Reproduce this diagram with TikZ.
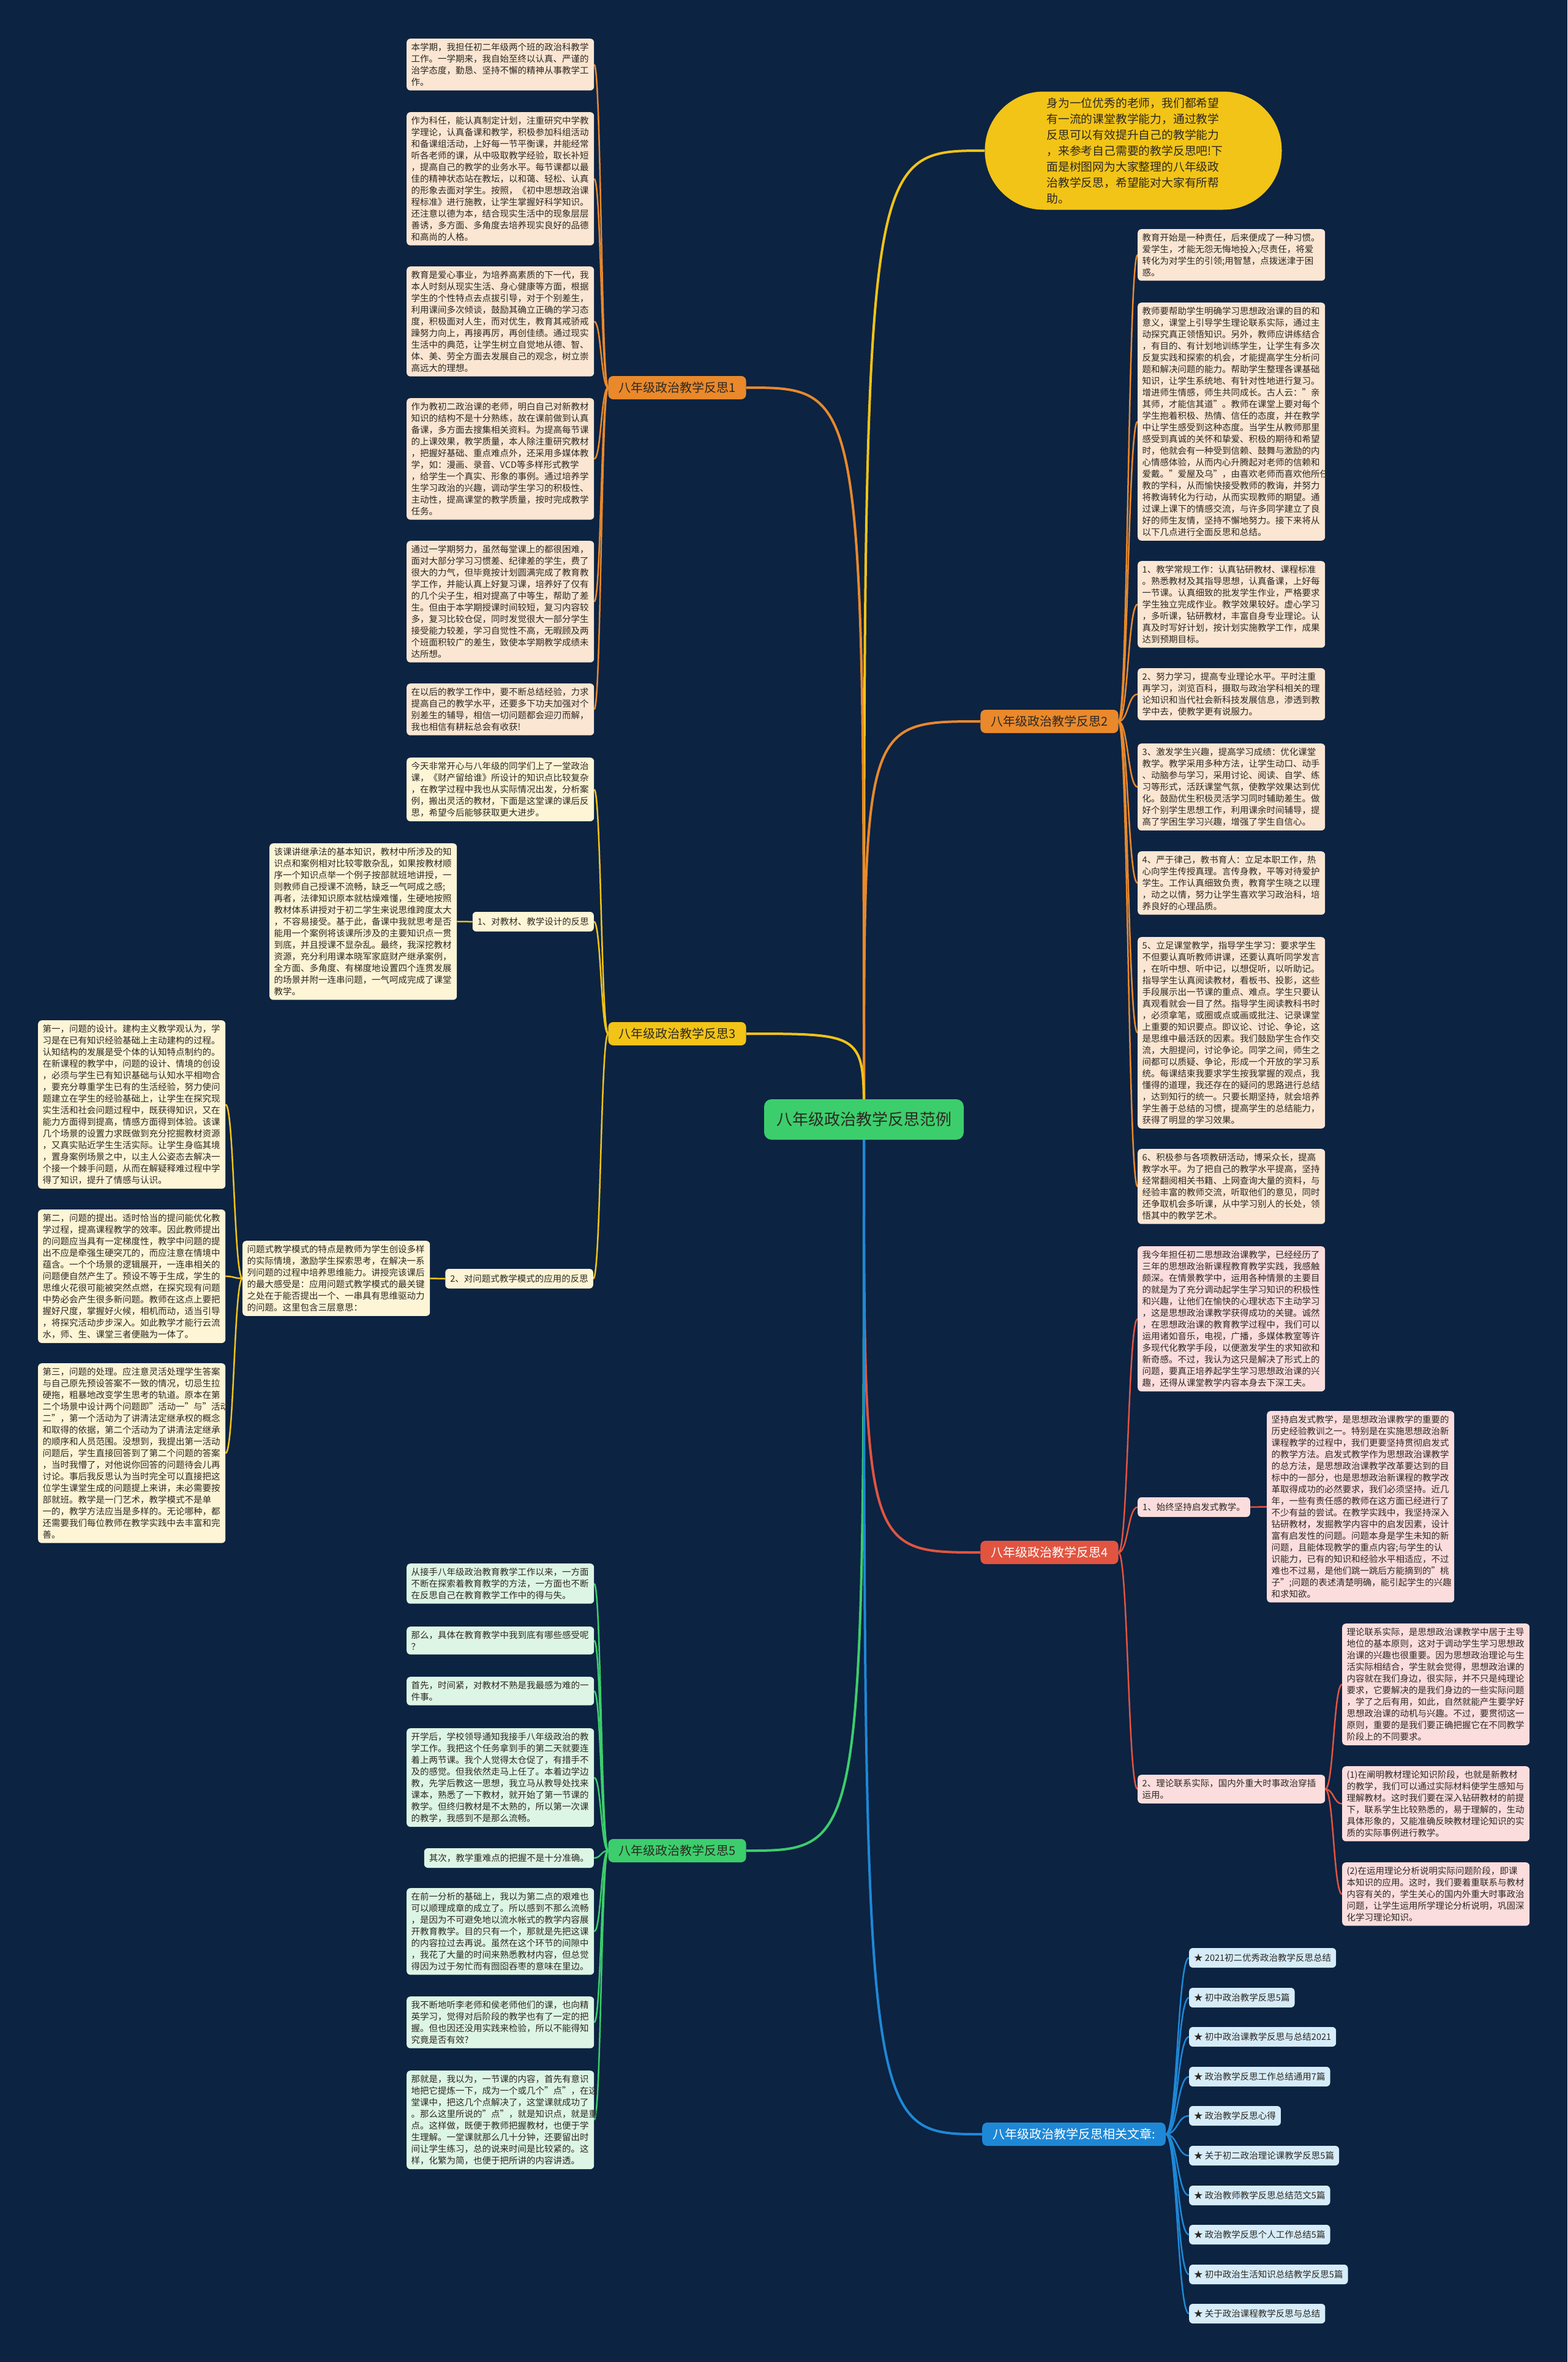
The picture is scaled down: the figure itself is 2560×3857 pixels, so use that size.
\documentclass[tikz,border=0pt]{standalone}
\usepackage{fontspec}
\setmainfont{Noto Sans CJK SC}
\usetikzlibrary{calc}
\definecolor{bgc}{RGB}{12,35,66}
\definecolor{txt}{RGB}{45,40,35}
\definecolor{cy}{RGB}{242,196,23}
\definecolor{co}{RGB}{233,137,43}
\definecolor{cr}{RGB}{226,84,64}
\definecolor{cg}{RGB}{60,206,108}
\definecolor{cb}{RGB}{30,136,214}
\definecolor{fpeach}{RGB}{250,230,210}
\definecolor{fcream}{RGB}{253,245,214}
\definecolor{fpink}{RGB}{251,221,221}
\definecolor{fmint}{RGB}{221,245,229}
\definecolor{fblue}{RGB}{214,236,248}
\pgfdeclarelayer{bgl}\pgfdeclarelayer{edg}\pgfsetlayers{bgl,edg,main}
\newcommand\fbody{\fontsize{14.5}{19}\selectfont}
\newcommand\fbr{\fontsize{20}{24}\selectfont}
\newcommand\fctr{\fontsize{26}{30}\selectfont}
\newcommand\fbub{\fontsize{18.8}{26}\selectfont}
\newcommand\scurve[3]{\path ($(#2)!.5!(#3)$) coordinate (tmpm); \draw[#1] (#2) .. controls (tmpm |- #2) and (tmpm |- #3) .. (#3);}
\newcommand\ccurve[2]{\draw[mainline,#1] (C.center) .. controls (C.center |- #2) .. (#2);}
\tikzset{
  tbox/.style={rounded corners=6pt, text width=291pt, inner xsep=7.5pt, inner ysep=7pt, align=left, font=\fbody, text=txt, anchor=north west},
  lbl/.style={rounded corners=6pt, inner xsep=8pt, inner ysep=7pt, font=\fbody, text=txt, minimum height=32pt},
  brn/.style={rounded corners=8pt, inner xsep=17pt, inner ysep=6pt, font=\fbr, text=txt, minimum height=38pt},
  itm/.style={rounded corners=6pt, inner xsep=8pt, inner ysep=6pt, font=\fbody, text=txt, minimum height=32pt, anchor=west, fill=fblue},
  mainline/.style={line width=4pt},
  subline/.style={line width=2.5pt}
}
\begin{document}
\begin{tikzpicture}[x=1pt,y=-1pt]
\useasboundingbox (0,0) rectangle (2560,3857);
\begin{pgfonlayer}{bgl}
\fill[bgc] (0,0) rectangle (2560,3857);
\end{pgfonlayer}

% center and bubble
\node[fill=cg, rounded corners=12pt, inner xsep=20pt, minimum height=66pt, font=\fctr, text=txt] (C) at (1411,1828) {八年级政治教学反思范例};
\node[fill=cy, rounded corners=96pt, text width=283pt, inner xsep=101pt, inner ysep=8pt, minimum height=193pt, align=left, font=\fbub, text=txt] (Y) at (1851,246) {身为一位优秀的老师，我们都希望\\有一流的课堂教学能力，通过教学\\反思可以有效提升自己的教学能力\\，来参考自己需要的教学反思吧!下\\面是树图网为大家整理的八年级政\\治教学反思，希望能对大家有所帮\\助。};

% branch labels
\node[brn, fill=co] (L1) at (1106,633) {八年级政治教学反思1};
\node[brn, fill=co] (L2) at (1714,1178) {八年级政治教学反思2};
\node[brn, fill=cy] (L3) at (1106,1688) {八年级政治教学反思3};
\node[brn, fill=cr, text=white] (L4) at (1714,2535) {八年级政治教学反思4};
\node[brn, fill=cg] (L5) at (1106,3022) {八年级政治教学反思5};
\node[brn, fill=cb, text=white] (L6) at (1754,3485) {八年级政治教学反思相关文章:};

% branch 1
\node[tbox, fill=fpeach] (A1) at (664,63) {本学期，我担任初二年级两个班的政治科教学\\工作。一学期来，我自始至终以认真、严谨的\\治学态度，勤恳、坚持不懈的精神从事教学工\\作。};
\node[tbox, fill=fpeach] (A2) at (664,183) {作为科任，能认真制定计划，注重研究中学教\\学理论，认真备课和教学，积极参加科组活动\\和备课组活动，上好每一节平衡课，并能经常\\听各老师的课，从中吸取教学经验，取长补短\\，提高自己的教学的业务水平。每节课都以最\\佳的精神状态站在教坛，以和蔼、轻松、认真\\的形象去面对学生。按照，《初中思想政治课\\程标准》进行施教，让学生掌握好科学知识。\\还注意以德为本，结合现实生活中的现象层层\\善诱，多方面、多角度去培养现实良好的品德\\和高尚的人格。};
\node[tbox, fill=fpeach] (A3) at (664,435) {教育是爱心事业，为培养高素质的下一代，我\\本人时刻从现实生活、身心健康等方面，根据\\学生的个性特点去点拔引导，对于个别差生，\\利用课间多次倾谈，鼓励其确立正确的学习态\\度，积极面对人生，而对优生，教育其戒骄戒\\躁努力向上，再接再厉，再创佳绩。通过现实\\生活中的典范，让学生树立自觉地从德、智、\\体、美、劳全方面去发展自己的观念，树立崇\\高远大的理想。};
\node[tbox, fill=fpeach] (A4) at (664,650) {作为教初二政治课的老师，明白自己对新教材\\知识的结构不是十分熟练，故在课前做到认真\\备课，多方面去搜集相关资料。为提高每节课\\的上课效果，教学质量，本人除注重研究教材\\，把握好基础、重点难点外，还采用多媒体教\\学，如：漫画、录音、VCD等多样形式教学\\，给学生一个真实、形象的事例。通过培养学\\生学习政治的兴趣，调动学生学习的积极性、\\主动性，提高课堂的教学质量，按时完成教学\\任务。};
\node[tbox, fill=fpeach] (A5) at (664,883) {通过一学期努力，虽然每堂课上的都很困难，\\面对大部分学习习惯差、纪律差的学生，费了\\很大的力气，但毕竟按计划圆满完成了教育教\\学工作，并能认真上好复习课，培养好了仅有\\的几个尖子生，相对提高了中等生，帮助了差\\生。但由于本学期授课时间较短，复习内容较\\多，复习比较仓促，同时发觉很大一部分学生\\接受能力较差，学习自觉性不高，无暇顾及两\\个班面积较广的差生，致使本学期教学成绩未\\达所想。};
\node[tbox, fill=fpeach] (A6) at (664,1116) {在以后的教学工作中，要不断总结经验，力求\\提高自己的教学水平，还要多下功夫加强对个\\别差生的辅导，相信一切问题都会迎刃而解，\\我也相信有耕耘总会有收获!};

% branch 2
\node[tbox, fill=fpeach] (B1) at (1858,374) {教育开始是一种责任，后来便成了一种习惯。\\爱学生，才能无怨无悔地投入;尽责任，将爱\\转化为对学生的引领;用智慧，点拨迷津于困\\惑。};
\node[tbox, fill=fpeach] (B2) at (1858,494) {教师要帮助学生明确学习思想政治课的目的和\\意义，课堂上引导学生理论联系实际，通过主\\动探究真正领悟知识。另外，教师应讲练结合\\，有目的、有计划地训练学生，让学生有多次\\反复实践和探索的机会，才能提高学生分析问\\题和解决问题的能力。帮助学生整理各课基础\\知识，让学生系统地、有针对性地进行复习。\\增进师生情感，师生共同成长。古人云："亲\\其师，才能信其道"。教师在课堂上要对每个\\学生抱着积极、热情、信任的态度，并在教学\\中让学生感受到这种态度。当学生从教师那里\\感受到真诚的关怀和挚爱、积极的期待和希望\\时，他就会有一种受到信赖、鼓舞与激励的内\\心情感体验，从而内心升腾起对老师的信赖和\\爱戴。"爱屋及乌"，由喜欢老师而喜欢他所任\\教的学科，从而愉快接受教师的教诲，并努力\\将教诲转化为行动，从而实现教师的期望。通\\过课上课下的情感交流，与许多同学建立了良\\好的师生友情，坚持不懈地努力。接下来将从\\以下几点进行全面反思和总结。};
\node[tbox, fill=fpeach] (B3) at (1858,916) {1、教学常规工作：认真钻研教材、课程标准\\。熟悉教材及其指导思想，认真备课，上好每\\一节课。认真细致的批发学生作业，严格要求\\学生独立完成作业。教学效果较好。虚心学习\\，多听课，钻研教材，丰富自身专业理论。认\\真及时写好计划，按计划实施教学工作，成果\\达到预期目标。};
\node[tbox, fill=fpeach] (B4) at (1858,1091) {2、努力学习，提高专业理论水平。平时注重\\再学习，浏览百科，摄取与政治学科相关的理\\论知识和当代社会新科技发展信息，渗透到教\\学中去，使教学更有说服力。};
\node[tbox, fill=fpeach] (B5) at (1858,1214) {3、激发学生兴趣，提高学习成绩：优化课堂\\教学。教学采用多种方法，让学生动口、动手\\、动脑参与学习，采用讨论、阅读、自学、练\\习等形式，活跃课堂气氛，使教学效果达到优\\化。鼓励优生积极灵活学习同时辅助差生。做\\好个别学生思想工作，利用课余时间辅导，提\\高了学困生学习兴趣，增强了学生自信心。};
\node[tbox, fill=fpeach] (B6) at (1858,1390) {4、严于律己，教书育人：立足本职工作，热\\心向学生传授真理。言传身教，平等对待爱护\\学生。工作认真细致负责，教育学生晓之以理\\，动之以情，努力让学生喜欢学习政治科，培\\养良好的心理品质。};
\node[tbox, fill=fpeach] (B7) at (1858,1530) {5、立足课堂教学，指导学生学习：要求学生\\不但要认真听教师讲课，还要认真听同学发言\\，在听中想、听中记，以想促听，以听助记。\\指导学生认真阅读教材，看板书、投影，这些\\手段展示出一节课的重点、难点。学生只要认\\真观看就会一目了然。指导学生阅读教科书时\\，必须拿笔，或圈或点或画或批注、记录课堂\\上重要的知识要点。即议论、讨论、争论，这\\是思维中最活跃的因素。我们鼓励学生合作交\\流，大胆提问，讨论争论。同学之间，师生之\\间都可以质疑、争论，形成一个开放的学习系\\统。每课结束我要求学生按我掌握的观点，我\\懂得的道理，我还存在的疑问的思路进行总结\\，达到知行的统一。只要长期坚持，就会培养\\学生善于总结的习惯，提高学生的总结能力，\\获得了明显的学习效果。};
\node[tbox, fill=fpeach] (B8) at (1858,1876) {6、积极参与各项教研活动，博采众长，提高\\教学水平。为了把自己的教学水平提高，坚持\\经常翻阅相关书籍、上网查询大量的资料，与\\经验丰富的教师交流，听取他们的意见，同时\\还争取机会多听课，从中学习别人的长处，领\\悟其中的教学艺术。};

% branch 3
\node[tbox, fill=fcream] (D1) at (664,1237) {今天非常开心与八年级的同学们上了一堂政治\\课，《财产留给谁》所设计的知识点比较复杂\\，在教学过程中我也从实际情况出发，分析案\\例，搬出灵活的教材，下面是这堂课的课后反\\思，希望今后能够获取更大进步。};
\node[lbl, fill=fcream, anchor=east] (M1) at (970,1505) {1、对教材、教学设计的反思};
\node[tbox, fill=fcream] (D2) at (440,1377) {该课讲继承法的基本知识，教材中所涉及的知\\识点和案例相对比较零散杂乱，如果按教材顺\\序一个知识点举一个例子按部就班地讲授，一\\则教师自己授课不流畅，缺乏一气呵成之感;\\再者，法律知识原本就枯燥难懂，生硬地按照\\教材体系讲授对于初二学生来说思维跨度太大\\，不容易接受。基于此，备课中我就思考是否\\能用一个案例将该课所涉及的主要知识点一贯\\到底，并且授课不显杂乱。最终，我深挖教材\\资源，充分利用课本晓军家庭财产继承案例，\\全方面、多角度、有梯度地设置四个连贯发展\\的场景并附一连串问题，一气呵成完成了课堂\\教学。};
\node[lbl, fill=fcream, anchor=east] (M2) at (969,2088) {2、对问题式教学模式的应用的反思};
\node[tbox, fill=fcream] (D3) at (396,2026) {问题式教学模式的特点是教师为学生创设多样\\的实际情境，激励学生探索思考，在解决一系\\列问题的过程中培养思维能力。讲授完该课后\\的最大感受是：应用问题式教学模式的最关键\\之处在于能否提出一个、一串具有思维驱动力\\的问题。这里包含三层意思：};
\node[tbox, fill=fcream] (E1) at (62,1666) {第一，问题的设计。建构主义教学观认为，学\\习是在已有知识经验基础上主动建构的过程。\\认知结构的发展是受个体的认知特点制约的。\\在新课程的教学中，问题的设计、情境的创设\\，必须与学生已有知识基础与认知水平相吻合\\，要充分尊重学生已有的生活经验，努力使问\\题建立在学生的经验基础上，让学生在探究现\\实生活和社会问题过程中，既获得知识，又在\\能力方面得到提高，情感方面得到体验。该课\\几个场景的设置力求既做到充分挖掘教材资源\\，又真实贴近学生生活实际。让学生身临其境\\，置身案例场景之中，以主人公姿态去解决一\\个接一个棘手问题，从而在解疑释难过程中学\\得了知识，提升了情感与认识。};
\node[tbox, fill=fcream] (E2) at (62,1975) {第二，问题的提出。适时恰当的提问能优化教\\学过程，提高课程教学的效率。因此教师提出\\的问题应当具有一定梯度性，教学中问题的提\\出不应是牵强生硬突兀的，而应注意在情境中\\蕴含。一个个场景的逻辑展开，一连串相关的\\问题便自然产生了。预设不等于生成，学生的\\思维火花很可能被突然点燃，在探究现有问题\\中势必会产生很多新问题。教师在这点上要把\\握好尺度，掌握好火候，相机而动，适当引导\\，将探究活动步步深入。如此教学才能行云流\\水，师、生、课堂三者便融为一体了。};
\node[tbox, fill=fcream] (E3) at (62,2226) {第三，问题的处理。应注意灵活处理学生答案\\与自己原先预设答案不一致的情况，切忌生拉\\硬拖，粗暴地改变学生思考的轨道。原本在第\\二个场景中设计两个问题即"活动一"与"活动\\二"，第一个活动为了讲清法定继承权的概念\\和取得的依据，第二个活动为了讲清法定继承\\的顺序和人员范围。没想到，我提出第一活动\\问题后，学生直接回答到了第二个问题的答案\\，当时我懵了，对他说你回答的问题待会儿再\\讨论。事后我反思认为当时完全可以直接把这\\位学生课堂生成的问题提上来讲，未必需要按\\部就班。教学是一门艺术，教学模式不是单\\一的，教学方法应当是多样的。无论哪种，都\\还需要我们每位教师在教学实践中去丰富和完\\善。};

% branch 4
\node[tbox, fill=fpink] (G1) at (1858,2035) {我今年担任初二思想政治课教学，已经经历了\\三年的思想政治新课程教育教学实践，我感触\\颇深。在情景教学中，运用各种情景的主要目\\的就是为了充分调动起学生学习知识的积极性\\和兴趣，让他们在愉快的心理状态下主动学习\\，这是思想政治课教学获得成功的关键。诚然\\，在思想政治课的教育教学过程中，我们可以\\运用诸如音乐，电视，广播，多媒体教室等许\\多现代化教学手段，以便激发学生的求知欲和\\新奇感。不过，我认为这只是解决了形式上的\\问题，要真正培养起学生学习思想政治课的兴\\趣，还得从课堂教学内容本身去下深工夫。};
\node[lbl, fill=fpink, anchor=west] (N1) at (1858,2461) {1、始终坚持启发式教学。};
\node[tbox, fill=fpink] (G2) at (2069,2304) {坚持启发式教学，是思想政治课教学的重要的\\历史经验教训之一。特别是在实施思想政治新\\课程教学的过程中，我们更要坚持贯彻启发式\\的教学方法。启发式教学作为思想政治课教学\\的总方法，是思想政治课教学改革要达到的目\\标中的一部分，也是思想政治新课程的教学改\\革取得成功的必然要求，我们必须坚持。近几\\年，一些有责任感的教师在这方面已经进行了\\不少有益的尝试。在教学实践中，我坚持深入\\钻研教材，发掘教学内容中的启发因素，设计\\富有启发性的问题。问题本身是学生未知的新\\问题，且能体现教学的重点内容;与学生的认\\识能力，已有的知识和经验水平相适应，不过\\难也不过易，是他们跳一跳后方能摘到的"桃\\子";问题的表述清楚明确，能引起学生的兴趣\\和求知欲。};
\node[tbox, fill=fpink] (N2) at (1858,2898) {2、理论联系实际，国内外重大时事政治穿插\\运用。};
\node[tbox, fill=fpink] (G3) at (2192,2651) {理论联系实际，是思想政治课教学中居于主导\\地位的基本原则，这对于调动学生学习思想政\\治课的兴趣也很重要。因为思想政治理论与生\\活实际相结合，学生就会觉得，思想政治课的\\内容就在我们身边，很实际，并不只是纯理论\\要求，它要解决的是我们身边的一些实际问题\\，学了之后有用，如此，自然就能产生要学好\\思想政治课的动机与兴趣。不过，要贯彻这一\\原则，重要的是我们要正确把握它在不同教学\\阶段上的不同要求。};
\node[tbox, fill=fpink] (G4) at (2192,2884) {(1)在阐明教材理论知识阶段，也就是新教材\\的教学，我们可以通过实际材料使学生感知与\\理解教材。这时我们要在深入钻研教材的前提\\下，联系学生比较熟悉的，易于理解的，生动\\具体形象的，又能准确反映教材理论知识的实\\质的实际事例进行教学。};
\node[tbox, fill=fpink] (G5) at (2192,3041) {(2)在运用理论分析说明实际问题阶段，即课\\本知识的应用。这时，我们要着重联系与教材\\内容有关的，学生关心的国内外重大时事政治\\问题，让学生运用所学理论分析说明，巩固深\\化学习理论知识。};

% branch 5
\node[tbox, fill=fmint] (F1) at (664,2553) {从接手八年级政治教育教学工作以来，一方面\\不断在探索着教育教学的方法，一方面也不断\\在反思自己在教育教学工作中的得与失。};
\node[tbox, fill=fmint] (F2) at (664,2656) {那么，具体在教育教学中我到底有哪些感受呢\\？};
\node[tbox, fill=fmint] (F3) at (664,2738) {首先，时间紧，对教材不熟是我最感为难的一\\件事。};
\node[tbox, fill=fmint] (F4) at (664,2822) {开学后，学校领导通知我接手八年级政治的教\\学工作。我把这个任务拿到手的第二天就要连\\着上两节课。我个人觉得太仓促了，有措手不\\及的感觉。但我依然走马上任了。本着边学边\\教，先学后教这一思想，我立马从教导处找来\\课本，熟悉了一下教材，就开始了第一节课的\\教学。但终归教材是不太熟的，所以第一次课\\的教学，我感到不是那么流畅。};
\node[lbl, fill=fmint, anchor=east] (F5) at (970,3034) {其次，教学重难点的把握不是十分准确。};
\node[tbox, fill=fmint] (F6) at (664,3083) {在前一分析的基础上，我以为第二点的艰难也\\可以顺理成章的成立了。所以感到不那么流畅\\，是因为不可避免地以流水帐式的教学内容展\\开教育教学。目的只有一个，那就是先把这课\\的内容拉过去再说。虽然在这个环节的间隙中\\，我花了大量的时间来熟悉教材内容，但总觉\\得因为过于匆忙而有囫囵吞枣的意味在里边。};
\node[tbox, fill=fmint] (F7) at (664,3260) {我不断地听李老师和侯老师他们的课，也向精\\英学习，觉得对后阶段的教学也有了一定的把\\握。但也因还没用实践来检验，所以不能得知\\究竟是否有效?};
\node[tbox, fill=fmint] (F8) at (664,3381) {那就是，我以为，一节课的内容，首先有意识\\地把它提炼一下，成为一个或几个"点"，在这\\堂课中，把这几个点解决了，这堂课就成功了\\。那么这里所说的"点"，就是知识点，就是重\\点。这样做，既便于教师把握教材，也便于学\\生理解。一堂课就那么几十分钟，还要留出时\\间让学生练习，总的说来时间是比较紧的。这\\样，化繁为简，也便于把所讲的内容讲透。};

% branch 6
\node[itm] (R1) at (1942,3197) {★ 2021初二优秀政治教学反思总结};
\node[itm] (R2) at (1942,3262) {★ 初中政治教学反思5篇};
\node[itm] (R3) at (1942,3326) {★ 初中政治课教学反思与总结2021};
\node[itm] (R4) at (1942,3391) {★ 政治教学反思工作总结通用7篇};
\node[itm] (R5) at (1942,3455) {★ 政治教学反思心得};
\node[itm] (R6) at (1942,3520) {★ 关于初二政治理论课教学反思5篇};
\node[itm] (R7) at (1942,3585) {★ 政治教师教学反思总结范文5篇};
\node[itm] (R8) at (1942,3649) {★ 政治教学反思个人工作总结5篇};
\node[itm] (R9) at (1942,3714) {★ 初中政治生活知识总结教学反思5篇};
\node[itm] (R10) at (1942,3778) {★ 关于政治课程教学反思与总结};

\begin{pgfonlayer}{edg}
\ccurve{cy}{Y.west}
\ccurve{co}{L1.east}
\ccurve{co}{L2.west}
\ccurve{cy}{L3.east}
\ccurve{cr}{L4.west}
\ccurve{cg}{L5.east}
\ccurve{cb}{L6.west}
\foreach \t in {A1,A2,A3,A4,A5,A6}{\scurve{subline,co}{L1.west}{\t.east}}
\foreach \t in {B1,B2,B3,B4,B5,B6,B7,B8}{\scurve{subline,co}{L2.east}{\t.west}}
\foreach \t in {D1,M1,M2}{\scurve{subline,cy}{L3.west}{\t.east}}
\scurve{subline,cy}{M1.west}{D2.east}
\scurve{subline,cy}{M2.west}{D3.east}
\foreach \t in {E1,E2,E3}{\scurve{subline,cy}{D3.west}{\t.east}}
\foreach \t in {G1,N1,N2}{\scurve{subline,cr}{L4.east}{\t.west}}
\scurve{subline,cr}{N1.east}{G2.west}
\foreach \t in {G3,G4,G5}{\scurve{subline,cr}{N2.east}{\t.west}}
\foreach \t in {F1,F2,F3,F4,F5,F6,F7,F8}{\scurve{subline,cg}{L5.west}{\t.east}}
\foreach \t in {R1,R2,R3,R4,R5,R6,R7,R8,R9,R10}{\scurve{subline,cb}{L6.east}{\t.west}}
\end{pgfonlayer}
\end{tikzpicture}
\end{document}
